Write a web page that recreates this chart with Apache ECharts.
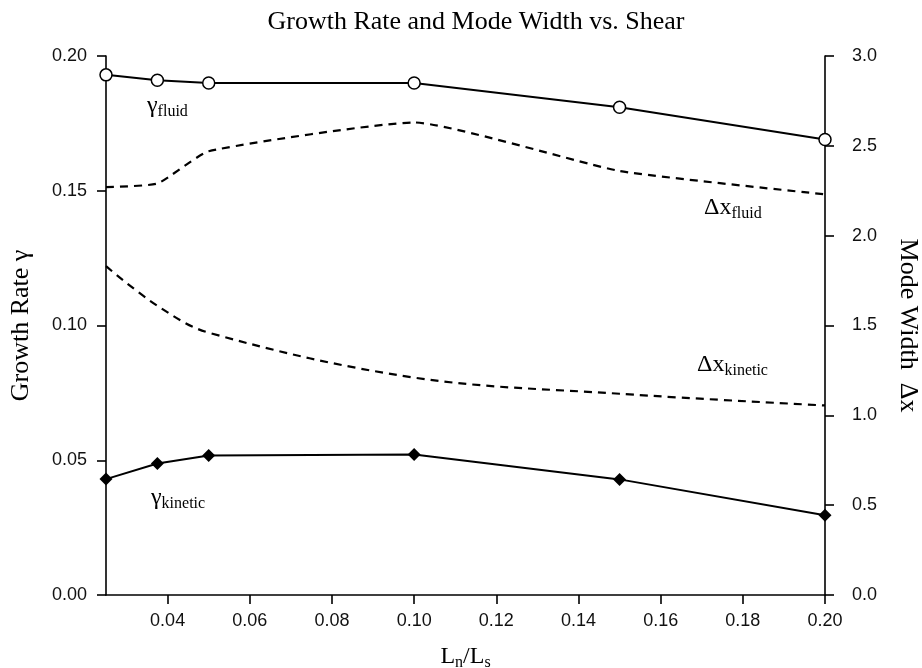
<!DOCTYPE html>
<html>
<head>
<meta charset="utf-8">
<script src="https://cdn.jsdelivr.net/npm/echarts@6/dist/echarts.min.js"></script>
<style>
  html, body { margin: 0; padding: 0; background: #fff; }
  #chart { width: 922px; height: 668px; }
</style>
</head>
<body>
<div id="chart"></div>
<script>
// L_n / L_s values where the runs were made
const shear = [0.025, 0.0375, 0.05, 0.10, 0.15, 0.20];
// growth rates (left axis)
const gammaFluid = [0.193, 0.191, 0.190, 0.190, 0.181, 0.169];
const gammaKinetic = [0.043, 0.0488, 0.0518, 0.0521, 0.0429, 0.0296];
// mode widths (right axis)
const dxFluid = [2.27, 2.29, 2.47, 2.63, 2.36, 2.23];
const dxKinetic = [1.83, 1.61, 1.46, 1.21, 1.12, 1.055];
// tick labels
const xTicks = [0.04, 0.06, 0.08, 0.10, 0.12, 0.14, 0.16, 0.18, 0.20];

const SERIF = "'Liberation Serif', 'DejaVu Serif', serif";
const SANS = "'Liberation Sans', Arial, sans-serif";

const pairs = (ys) => shear.map((x, i) => [x, ys[i]]);

const chart = echarts.init(document.getElementById("chart"));

const axisLine = { lineStyle: { color: "#000", width: 1.6 } };
const axisTick = { show: true, inside: false, length: 9, lineStyle: { color: "#000", width: 1.6 } };
const tickFont = { color: "#111", fontFamily: SANS, fontSize: 18 };

const subRich = {
  m: { fontFamily: SERIF, fontSize: 24, color: "#000" },
  s: { fontFamily: SERIF, fontSize: 16, color: "#000", padding: [12, 0, 0, 0] },
};

const annotation = (x, y, main, sub) => ({
  type: "text",
  x: x,
  y: y,
  style: {
    text: "{m|" + main + "}{s|" + sub + "}",
    rich: subRich,
    verticalAlign: "middle",
  },
});

const option = {
  animation: false,
  backgroundColor: "#fff",
  title: {
    text: "Growth Rate and Mode Width vs. Shear",
    left: 471,
    textAlign: "center",
    top: 4,
    textStyle: { fontFamily: SERIF, fontSize: 26, fontWeight: "normal", color: "#000" },
  },
  grid: { left: 106, right: 97, top: 56, bottom: 73, outerBoundsMode: "none", containLabel: false },
  xAxis: {
    type: "value",
    min: 0.025,
    max: 0.2,
    name: "{m|L}{s|n}{m|/L}{s|s}",
    nameLocation: "middle",
    nameGap: 48,
    nameTextStyle: { rich: subRich },
    axisLine: { ...axisLine, onZero: false },
    axisTick: { ...axisTick, customValues: xTicks },
    axisLabel: { ...tickFont, margin: 17, customValues: xTicks, formatter: (v) => v.toFixed(2) },
    splitLine: { show: false },
  },
  yAxis: [
    {
      type: "value",
      min: 0,
      max: 0.2,
      interval: 0.05,
      name: "Growth Rate γ",
      nameLocation: "middle",
      nameGap: 72,
      nameTextStyle: { fontFamily: SERIF, fontSize: 26, color: "#000" },
      axisLine: { show: true, ...axisLine },
      axisTick,
      axisLabel: { ...tickFont, margin: 19, formatter: (v) => v.toFixed(2) },
      splitLine: { show: false },
    },
    {
      type: "value",
      min: 0,
      max: 3,
      interval: 0.5,
      position: "right",
      name: "Mode Width  Δx",
      nameLocation: "middle",
      nameGap: 70,
      nameRotate: -90,
      nameTextStyle: { fontFamily: SERIF, fontSize: 26, color: "#000" },
      axisLine: { show: true, ...axisLine },
      axisTick,
      axisLabel: { ...tickFont, margin: 27, formatter: (v) => v.toFixed(1) },
      splitLine: { show: false },
    },
  ],
  series: [
    {
      name: "gamma fluid",
      type: "line",
      yAxisIndex: 0,
      data: pairs(gammaFluid),
      symbol: "circle",
      symbolSize: 12,
      itemStyle: { color: "#fff", borderColor: "#000", borderWidth: 1.5 },
      lineStyle: { color: "#000", width: 2 },
      z: 5,
    },
    {
      name: "gamma kinetic",
      type: "line",
      yAxisIndex: 0,
      data: pairs(gammaKinetic),
      symbol: "diamond",
      symbolSize: 13,
      itemStyle: { color: "#000" },
      lineStyle: { color: "#000", width: 2 },
      z: 5,
    },
    {
      name: "dx fluid",
      type: "line",
      yAxisIndex: 1,
      data: pairs(dxFluid),
      symbol: "none",
      smooth: 0.15,
      lineStyle: { color: "#000", width: 2.2, type: [8, 6] },
    },
    {
      name: "dx kinetic",
      type: "line",
      yAxisIndex: 1,
      data: pairs(dxKinetic),
      symbol: "none",
      smooth: 0.35,
      lineStyle: { color: "#000", width: 2.2, type: [8, 6] },
    },
  ],
  graphic: [
    annotation(147, 106, "γ", "fluid"),
    annotation(151, 498, "γ", "kinetic"),
    annotation(704, 208, "Δx", "fluid"),
    annotation(697, 365, "Δx", "kinetic"),
  ],
};

chart.setOption(option);
</script>
</body>
</html>
